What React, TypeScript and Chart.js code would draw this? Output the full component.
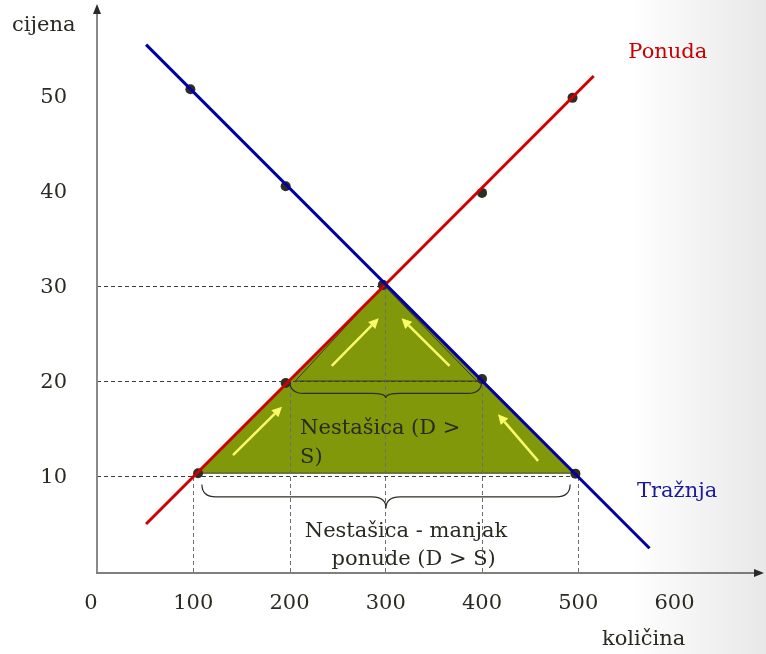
import React, { useEffect, useRef } from "react";
import { Chart, registerables } from "chart.js";
Chart.register(...registerables);

const xTicks = [0, 100, 200, 300, 400, 500, 600];
const yTicks = [10, 20, 30, 40, 50];

const demandLine = [{ x: 51, y: 55.5 }, { x: 574, y: 2.5 }];
const supplyLine = [{ x: 51, y: 5.05 }, { x: 516, y: 52.2 }];
const demandPoints = [
  { x: 97, y: 50.8 }, { x: 196, y: 40.6 }, { x: 297, y: 30.2 }, { x: 400, y: 20.3 }, { x: 497, y: 10.35 },
];
const supplyPoints = [
  { x: 105, y: 10.4 }, { x: 196, y: 19.9 }, { x: 297, y: 30.2 }, { x: 400, y: 39.9 }, { x: 494, y: 49.9 },
];
const shortageTriangle = [{ x: 104, y: 10.4 }, { x: 298, y: 30.2 }, { x: 495, y: 10.4 }];
const innerTriangle = [{ x: 206, y: 20.1 }, { x: 298, y: 30.2 }, { x: 394.5, y: 20.1 }];
const priceLevels = [{ y: 30.1, xEnd: 299 }, { y: 20.1, xEnd: 400 }, { y: 10.1, xEnd: 500 }];
const quantityLevels = [
  { x: 100, yEnd: 10.1 }, { x: 200, yEnd: 20.1 }, { x: 299.5, yEnd: 30.1 }, { x: 400, yEnd: 20.1 }, { x: 500, yEnd: 10.1 },
];
const arrows = [
  { x1: 141.3, y1: 12.3, x2: 192.2, y2: 17.4 },
  { x1: 243.9, y1: 21.7, x2: 292.7, y2: 26.7 },
  { x1: 366.2, y1: 21.7, x2: 316.4, y2: 26.7 },
  { x1: 458.2, y1: 11.7, x2: 416.6, y2: 16.6 },
];
const braces = [
  { x1: 200.5, x2: 399.5, yTop: 20.0, yFlat: 18.8, yTip: 18.3 },
  { x1: 109, x2: 491.5, yTop: 9.2, yFlat: 7.9, yTip: 6.7 },
];
const notes = [
  { text: "Nestašica (D >", x: 211, y: 14.5, color: "#2a2a22", align: "left" },
  { text: "S)", x: 211, y: 11.45, color: "#2a2a22", align: "left" },
  { text: "Nestašica - manjak", x: 321, y: 3.7, color: "#2a2a22", align: "center" },
  { text: "ponude (D > S)", x: 329, y: 0.7, color: "#2a2a22", align: "center" },
  { text: "Ponuda", x: 552, y: 54.1, color: "#c80000", align: "left" },
  { text: "Tražnja", x: 561, y: 7.9, color: "#1a1a9a", align: "left" },
];
const yAxisTitle = "cijena";
const xAxisTitle = "količina";

const FONT = '21px "DejaVu Serif", serif';

const overlay = {
  id: "overlay",
  beforeDraw(chart: any) {
    const ctx = chart.ctx;
    const w = chart.width, h = chart.height;
    ctx.save();
    const g = ctx.createLinearGradient(0, 0, w, 0);
    g.addColorStop(0, "#ffffff");
    g.addColorStop(0.82, "#ffffff");
    g.addColorStop(1, "#e8e8e8");
    ctx.fillStyle = g;
    ctx.fillRect(0, 0, w, h);
    ctx.restore();
  },
  beforeDatasetsDraw(chart: any) {
    const ctx = chart.ctx;
    const xs = chart.scales.x, ys = chart.scales.y;
    const X = (v: number) => xs.getPixelForValue(v);
    const Y = (v: number) => ys.getPixelForValue(v);
    const a = chart.chartArea;
    ctx.save();

    // triangle
    ctx.beginPath();
    shortageTriangle.forEach((p, i) => (i ? ctx.lineTo(X(p.x), Y(p.y)) : ctx.moveTo(X(p.x), Y(p.y))));
    ctx.closePath();
    ctx.fillStyle = "#81980b";
    ctx.fill();
    ctx.strokeStyle = "#3a3a2a";
    ctx.lineWidth = 1;
    ctx.stroke();

    ctx.beginPath();
    innerTriangle.forEach((p, i) => (i ? ctx.lineTo(X(p.x), Y(p.y)) : ctx.moveTo(X(p.x), Y(p.y))));
    ctx.closePath();
    ctx.strokeStyle = "#3a3a2a";
    ctx.lineWidth = 1;
    ctx.stroke();

    // dashed guides
    ctx.setLineDash([4, 3]);
    ctx.lineWidth = 1;
    ctx.strokeStyle = "#3c3c3c";
    priceLevels.forEach((l) => {
      ctx.beginPath();
      ctx.moveTo(a.left, Math.round(Y(l.y)) + 0.5);
      ctx.lineTo(X(l.xEnd), Math.round(Y(l.y)) + 0.5);
      ctx.stroke();
    });
    ctx.strokeStyle = "#6e6e6e";
    quantityLevels.forEach((l) => {
      ctx.beginPath();
      ctx.moveTo(Math.round(X(l.x)) + 0.5, Y(0));
      ctx.lineTo(Math.round(X(l.x)) + 0.5, Y(l.yEnd));
      ctx.stroke();
    });
    ctx.setLineDash([]);

    // braces
    ctx.strokeStyle = "#2e2e26";
    ctx.lineWidth = 1.2;
    braces.forEach((b) => {
      const L = X(b.x1), R = X(b.x2), M = (L + R) / 2;
      const T = Y(b.yTop), F = Y(b.yFlat), P = Y(b.yTip);
      const r = 14;
      ctx.beginPath();
      ctx.moveTo(L, T);
      ctx.quadraticCurveTo(L, F, L + r, F);
      ctx.lineTo(M - r, F);
      ctx.quadraticCurveTo(M, F, M, P);
      ctx.quadraticCurveTo(M, F, M + r, F);
      ctx.lineTo(R - r, F);
      ctx.quadraticCurveTo(R, F, R, T);
      ctx.stroke();
    });

    // arrows
    ctx.strokeStyle = "#fbfb6a";
    ctx.fillStyle = "#fbfb6a";
    ctx.lineWidth = 2.5;
    arrows.forEach((ar) => {
      const x1 = X(ar.x1), y1 = Y(ar.y1), x2 = X(ar.x2), y2 = Y(ar.y2);
      const ang = Math.atan2(y2 - y1, x2 - x1);
      const hl = 10, hw = 5;
      const bx = x2 - hl * Math.cos(ang), by = y2 - hl * Math.sin(ang);
      ctx.beginPath();
      ctx.moveTo(x1, y1);
      ctx.lineTo(bx, by);
      ctx.stroke();
      ctx.beginPath();
      ctx.moveTo(x2, y2);
      ctx.lineTo(bx + hw * Math.sin(ang), by - hw * Math.cos(ang));
      ctx.lineTo(bx - hw * Math.sin(ang), by + hw * Math.cos(ang));
      ctx.closePath();
      ctx.fill();
    });

    // axes
    const x0 = Math.round(X(0)), y0 = Math.round(Y(0));
    ctx.strokeStyle = "#8a8a8a";
    ctx.lineWidth = 2;
    ctx.beginPath();
    ctx.moveTo(x0, y0);
    ctx.lineTo(x0, 12);
    ctx.stroke();
    ctx.fillStyle = "#2a2a2a";
    ctx.beginPath();
    ctx.moveTo(x0, 4);
    ctx.lineTo(x0 - 4, 14);
    ctx.lineTo(x0 + 4, 14);
    ctx.closePath();
    ctx.fill();

    const xr = a.right - 2;
    ctx.strokeStyle = "#555555";
    ctx.lineWidth = 1.5;
    ctx.beginPath();
    ctx.moveTo(x0 - 1, y0 + 1);
    ctx.lineTo(xr - 8, y0 + 1);
    ctx.stroke();
    ctx.beginPath();
    ctx.moveTo(xr, y0 + 1);
    ctx.lineTo(xr - 10, y0 - 3);
    ctx.lineTo(xr - 10, y0 + 5);
    ctx.closePath();
    ctx.fill();

    // tick labels
    ctx.font = FONT;
    ctx.fillStyle = "#2a2a22";
    ctx.textAlign = "right";
    ctx.textBaseline = "middle";
    yTicks.forEach((v) => ctx.fillText(String(v), x0 - 30, Y(v) + 1));
    ctx.textAlign = "center";
    ctx.textBaseline = "top";
    xTicks.forEach((v) => ctx.fillText(String(v), X(v) + (v === 0 ? -6 : 0), y0 + 21));

    // axis titles
    ctx.textAlign = "left";
    ctx.textBaseline = "alphabetic";
    ctx.fillText(yAxisTitle, 12, 31);
    ctx.fillText(xAxisTitle, 602, 645);

    // notes
    notes.forEach((n) => {
      ctx.fillStyle = n.color;
      ctx.textAlign = n.align as CanvasTextAlign;
      ctx.fillText(n.text, X(n.x), Y(n.y));
    });
    ctx.restore();
  },
};

export default function App() {
  const ref = useRef<HTMLCanvasElement>(null);
  useEffect(() => {
    const chart = new Chart(ref.current!, {
      type: "scatter",
      data: {
        datasets: [
          { data: demandLine, showLine: true, borderColor: "#00009c", borderWidth: 3, pointRadius: 0 },
          { data: supplyLine, showLine: true, borderColor: "#d10000", borderWidth: 3, pointRadius: 0 },
          { data: demandPoints, showLine: false, pointRadius: 5, backgroundColor: "#2d2d24", borderColor: "#2d2d24", borderWidth: 0 },
          { data: supplyPoints, showLine: false, pointRadius: 5, backgroundColor: "#2d2d24", borderColor: "#2d2d24", borderWidth: 0 },
        ],
      },
      options: {
        responsive: false,
        animation: false,
        layout: { padding: 0, autoPadding: false },
        plugins: { legend: { display: false }, tooltip: { enabled: false } },
        scales: {
          x: {
            type: "linear", min: 0, max: 695,
            grid: { display: false }, border: { display: false },
            ticks: { display: false },
            afterFit: (s: any) => {
              s.height = 82;
              s.paddingLeft = 0; s.paddingRight = 0; s.paddingTop = 0; s.paddingBottom = 0;
            },
          },
          y: {
            type: "linear", min: 0, max: 60.2,
            grid: { display: false }, border: { display: false },
            ticks: { display: false },
            afterFit: (s: any) => {
              s.width = 97;
              s.paddingLeft = 0; s.paddingRight = 0; s.paddingTop = 0; s.paddingBottom = 0;
            },
          },
        },
      },
      plugins: [overlay],
    } as any);
    return () => chart.destroy();
  }, []);
  return (
    <div style={{ position: "absolute", left: 0, top: 0, width: 766, height: 654 }}>
      <canvas ref={ref} width={766} height={654} style={{ display: "block" }} />
    </div>
  );
}
